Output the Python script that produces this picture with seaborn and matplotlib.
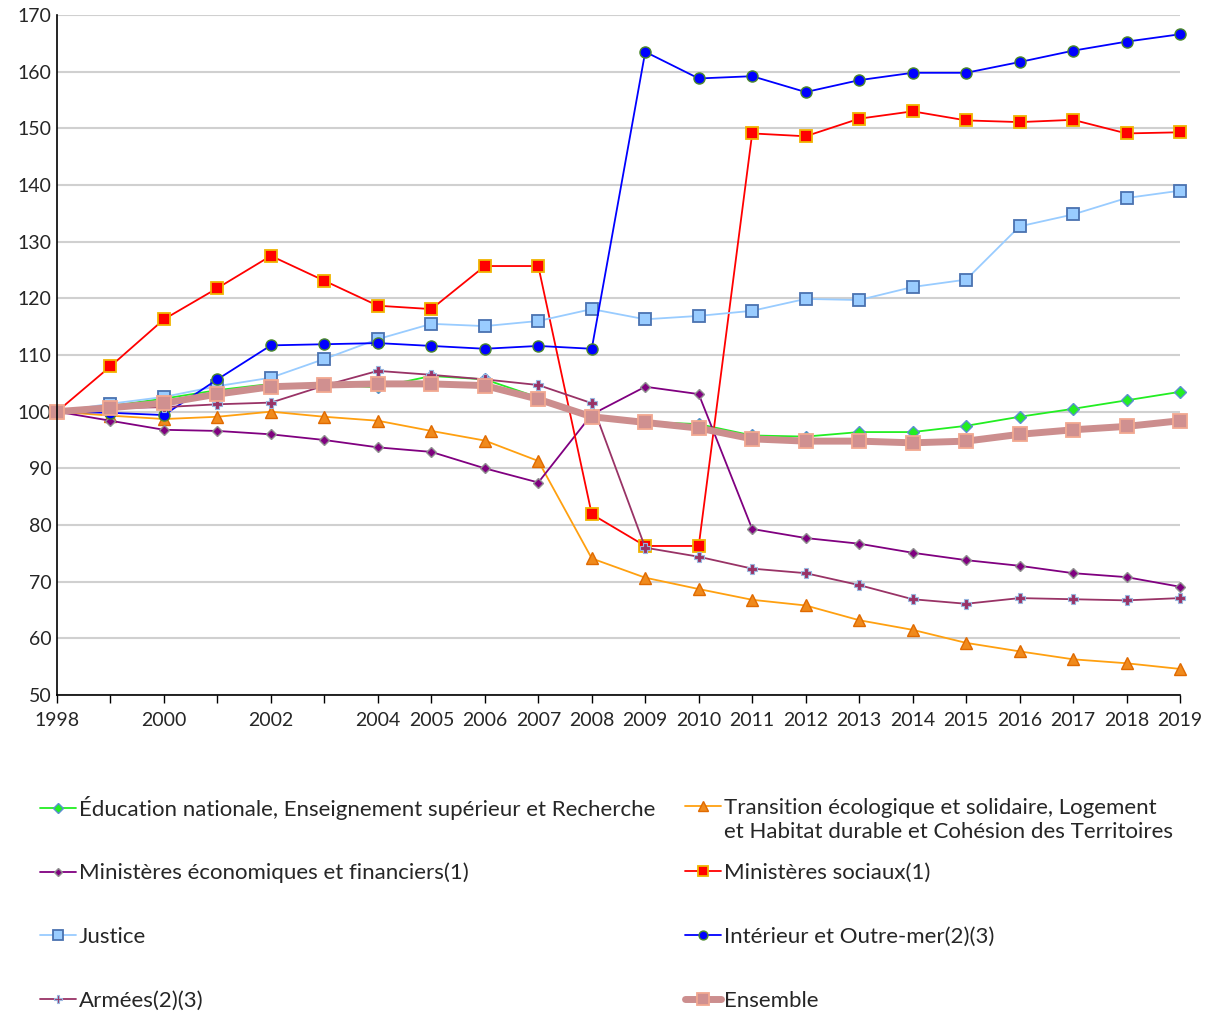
import matplotlib
matplotlib.use("Agg")
import matplotlib.pyplot as plt
import seaborn as sns

# Data (indice base 100 en 1998)
years = list(range(1998, 2020))

education = [100, 101.0, 102.3, 103.8, 104.9, 104.8, 104.3, 106.3, 105.7, 102.5, 99.3,
             98.2, 97.8, 95.8, 95.6, 96.4, 96.4, 97.5, 99.1, 100.5, 102.0, 103.5]
transition = [100, 99.3, 98.7, 99.1, 100.0, 99.1, 98.4, 96.6, 94.9, 91.3, 74.1,
              70.7, 68.7, 66.8, 65.8, 63.2, 61.5, 59.2, 57.7, 56.3, 55.6, 54.6]
eco_fin = [100, 98.4, 96.8, 96.6, 96.0, 95.0, 93.7, 92.9, 90.0, 87.5, 99.5,
           104.4, 103.1, 79.3, 77.7, 76.7, 75.1, 73.8, 72.8, 71.5, 70.8, 69.1]
sociaux = [100, 108.0, 116.3, 121.8, 127.5, 123.1, 118.7, 118.1, 125.7, 125.7, 81.9,
           76.3, 76.3, 149.1, 148.6, 151.7, 153.0, 151.4, 151.1, 151.5, 149.1, 149.3]
justice = [100, 101.4, 102.6, 104.5, 106.0, 109.3, 112.8, 115.5, 115.1, 116.0, 118.1,
           116.3, 116.9, 117.8, 119.9, 119.7, 122.0, 123.3, 132.7, 134.8, 137.7, 139.0]
interieur = [100, 99.8, 99.4, 105.7, 111.7, 111.9, 112.1, 111.6, 111.1, 111.6, 111.1,
             163.5, 158.8, 159.2, 156.4, 158.5, 159.8, 159.8, 161.7, 163.7, 165.3, 166.6]
armees = [100, 100.6, 100.8, 101.3, 101.6, 104.6, 107.2, 106.5, 105.7, 104.7, 101.5,
          76.0, 74.4, 72.3, 71.5, 69.4, 66.9, 66.1, 67.1, 66.9, 66.7, 67.1]
ensemble = [100, 100.7, 101.5, 103.1, 104.4, 104.7, 104.9, 104.9, 104.6, 102.2, 99.1,
            98.1, 97.1, 95.2, 94.8, 94.8, 94.5, 94.8, 96.0, 96.8, 97.4, 98.4]

x_labels = ["1998", "", "2000", "", "2002", "", "2004", "2005", "2006", "2007", "2008",
            "2009", "2010", "2011", "2012", "2013", "2014", "2015", "2016", "2017", "2018", "2019"]

lbl_edu = "Éducation nationale, Enseignement supérieur et Recherche"
lbl_tra = "Transition écologique et solidaire, Logement"
lbl_tra2 = "et Habitat durable et Cohésion des Territoires"
lbl_eco = "Ministères économiques et financiers(1)"
lbl_soc = "Ministères sociaux(1)"
lbl_jus = "Justice"
lbl_int = "Intérieur et Outre-mer(2)(3)"
lbl_arm = "Armées(2)(3)"
lbl_ens = "Ensemble"

sns.set_style("white")
plt.rcParams["font.family"] = ["Lato", "DejaVu Sans"]

fig = plt.figure(figsize=(12.1, 10.16), dpi=100)
ax = fig.add_axes([57 / 1210, 1 - 695 / 1016, 1123 / 1210, 680 / 1016])

series = [
    (education, lbl_edu, dict(color="#22ee22", lw=1.3, marker="D", ms=6,
                              mfc="#22ee22", mec="#5b8fd0", mew=1.0)),
    (transition, lbl_tra, dict(color="#ffa010", lw=1.3, marker="^", ms=9,
                               mfc="#f08a1c", mec="#e06a00", mew=1.0)),
    (eco_fin, lbl_eco, dict(color="#800080", lw=1.3, marker="D", ms=5.5,
                            mfc="#800080", mec="#909090", mew=1.0)),
    (sociaux, lbl_soc, dict(color="#ff0000", lw=1.3, marker="s", ms=8.5,
                            mfc="#ff0000", mec="#f0b400", mew=1.3)),
    (justice, lbl_jus, dict(color="#99ccff", lw=1.3, marker="s", ms=9,
                            mfc="#99ccff", mec="#4a72b0", mew=1.3)),
    (interieur, lbl_int, dict(color="#0000ff", lw=1.3, marker="o", ms=8,
                              mfc="#0000ff", mec="#4c8a2a", mew=1.0)),
    (armees, lbl_arm, dict(color="#993366", lw=1.3, marker="P", ms=7,
                           mfc="#993366", mec="#9ab8e0", mew=0.8)),
    (ensemble, lbl_ens, dict(color="#cc8e8e", lw=5, marker="s", ms=10,
                             mfc="#d09090", mec="#f2a890", mew=1.3)),
]

handles = {}
for vals, lbl, st in series:
    sns.lineplot(x=years, y=vals, ax=ax, label=lbl, clip_on=False, **st)
    handles[lbl] = ax.get_lines()[-1]
ax.get_legend().remove()

ax.set_xlim(1998, 2019)
ax.set_ylim(50, 170)
ax.set_yticks(range(50, 171, 10))
ax.set_xticks(years)
ax.set_xticklabels(x_labels)
ax.set_xlabel("")
ax.set_ylabel("")
ax.yaxis.grid(True, color="#d0d0d0", lw=1.5)
ax.set_axisbelow(True)
for s in ["top", "right"]:
    ax.spines[s].set_visible(False)
for s in ["left", "bottom"]:
    ax.spines[s].set_color("black")
    ax.spines[s].set_linewidth(1.2)
ax.tick_params(axis="x", length=6, width=1, color="black", labelsize=14, pad=6, direction="out", bottom=True)
ax.tick_params(axis="y", length=0, labelsize=14, pad=4)

# legend: one entry per box, two columns
col_x = [40 / 1210, 685 / 1210]
row_y = [808, 873, 937, 1001]
order = [(lbl_edu, 0, 0), (lbl_tra, 1, 0), (lbl_eco, 0, 1), (lbl_soc, 1, 1),
         (lbl_jus, 0, 2), (lbl_int, 1, 2), (lbl_arm, 0, 3), (lbl_ens, 1, 3)]
for lbl, c, r in order:
    h = handles[lbl]
    fig.legend([h], [lbl], loc="center left", bbox_to_anchor=(col_x[c], 1 - row_y[r] / 1016),
               frameon=False, fontsize=16, handlelength=1.6, handletextpad=0.15,
               borderpad=0, borderaxespad=0, markerscale=0.8)
fig.text(724 / 1210, 1 - 832 / 1016, lbl_tra2, fontsize=16, ha="left", va="center")

fig.savefig("out.png", dpi=100)
